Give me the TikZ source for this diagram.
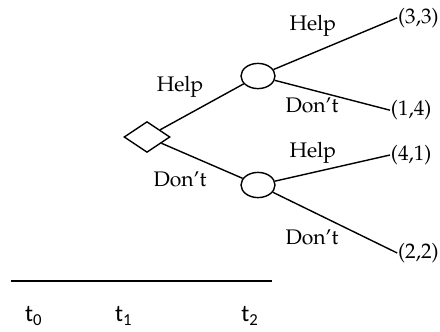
\documentclass[tikz,border=0pt]{standalone}
\usepackage[T1]{fontenc}
\usepackage{fontspec}
\newfontfamily\timefont{Carlito}
\newcommand{\palfont}{\fontencoding{T1}\fontfamily{ppl}\selectfont}
\usetikzlibrary{shapes.geometric}

\begin{document}
\begin{tikzpicture}[
    choice/.style={draw, line width=1pt, diamond, minimum width=1.15cm, minimum height=0.77cm, inner sep=0pt},
    chance/.style={draw, line width=1pt, ellipse, minimum width=0.85cm, minimum height=0.63cm, inner sep=0pt},
    act/.style={font=\palfont\fontsize{15}{18}\selectfont},
    payoff/.style={font=\palfont\fontsize{15}{18}\selectfont, anchor=west, inner sep=0.5pt},
    period/.style={font=\timefont\fontsize{17}{20}\selectfont, anchor=base},
    branch/.style={line width=1pt}
]
    \useasboundingbox (0,0) rectangle (11,8.275);

    % nodes of the tree
    \node[choice] (root) at (3.675, 4.85) {};
    \node[chance] (up) at (6.45, 6.375) {};
    \node[chance] (down) at (6.45, 3.65) {};

    % payoffs
    \node[payoff] (hh) at (9.93, 7.83) {(3,3)};
    \node[payoff] (hd) at (9.75, 5.52) {(1,4)};
    \node[payoff] (dh) at (9.75, 4.4) {(4,1)};
    \node[payoff] (dd) at (9.93, 1.95) {(2,2)};

    % branches
    \draw[branch] (root) -- (up);
    \draw[branch] (root) -- (down);
    \draw[branch] (up) -- (hh.west);
    \draw[branch] (up) -- (hd.west);
    \draw[branch] (down) -- (dh.west);
    \draw[branch] (down) -- (dd.west);

    % labels of the actions
    \node[act] (l1) at (4.5, 6.1) {Help};
    \node[act] (l2) at (4.5, 3.78) {Don't};
    \node[act] (l3) at (7.82, 7.63) {Help};
    \node[act] (l4) at (7.8, 5.63) {Don't};
    \node[act] (l5) at (7.82, 4.45) {Help};
    \node[act] (l6) at (7.8, 2.33) {Don't};

    % time line
    \coordinate (tl) at (0.275, 1.25);
    \coordinate (tr) at (6.8, 1.25);
    \draw[line width=1pt] (tl) -- (tr);
    \node[period] (t0) at (0.84, 0.24) {t\textsubscript{0}};
    \node[period] (t1) at (3.09, 0.24) {t\textsubscript{1}};
    \node[period] (t2) at (6.25, 0.24) {t\textsubscript{2}};
\end{tikzpicture}
\end{document}
